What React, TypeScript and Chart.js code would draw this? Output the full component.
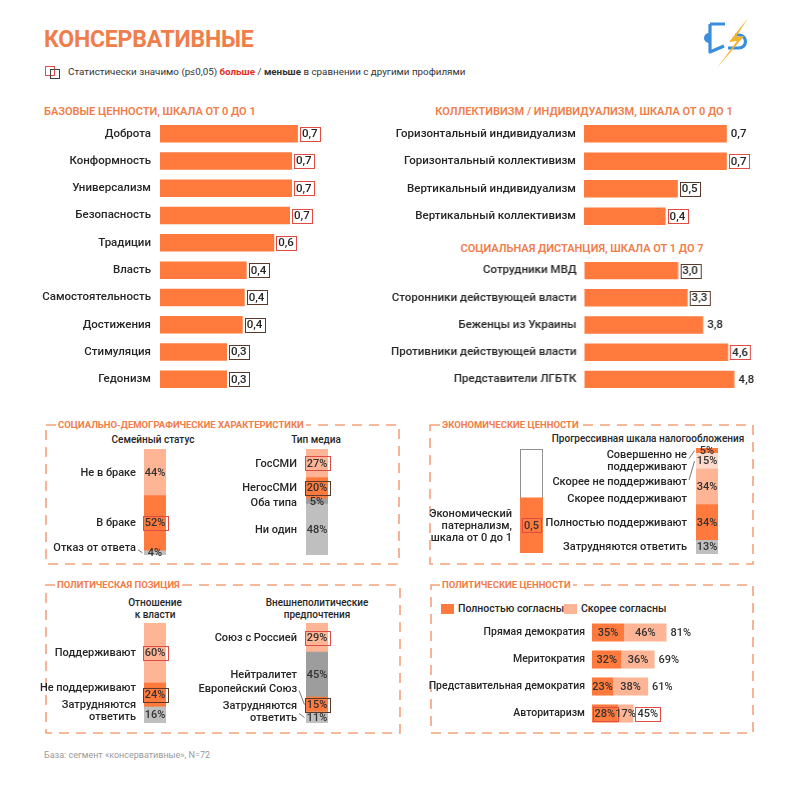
import React, { useEffect, useRef } from 'react';
import { Chart, registerables } from 'chart.js';
Chart.register(...registerables);

// ---------------- DATA ----------------
type Sig = 'more' | 'less' | null;

const baseLabels = ['Доброта', 'Конформность', 'Универсализм', 'Безопасность', 'Традиции', 'Власть', 'Самостоятельность', 'Достижения', 'Стимуляция', 'Гедонизм'];
const baseValues = [0.70, 0.67, 0.67, 0.66, 0.58, 0.44, 0.43, 0.42, 0.34, 0.34];
const baseSig: Sig[] = ['more', 'more', 'more', 'more', 'more', 'less', 'less', 'less', 'less', 'less'];

const collLabels = ['Горизонтальный индивидуализм', 'Горизонтальный коллективизм', 'Вертикальный индивидуализм', 'Вертикальный коллективизм'];
const collValues = [0.70, 0.70, 0.46, 0.40];
const collSig: Sig[] = [null, 'more', 'less', 'more'];

const distLabels = ['Сотрудники МВД', 'Сторонники действующей власти', 'Беженцы из Украины', 'Противники действующей власти', 'Представители ЛГБТК'];
const distValues = [3.0, 3.3, 3.8, 4.6, 4.8];
const distSig: Sig[] = ['less', 'less', null, 'more', null];

const familyLabels = ['Не в браке', 'В браке', 'Отказ от ответа'];
const familyValues = [44, 52, 4];
const familySig: Sig[] = [null, 'more', null];

const mediaLabels = ['ГосСМИ', 'НегосСМИ', 'Оба типа', 'Ни один'];
const mediaValues = [27, 20, 5, 48];
const mediaSig: Sig[] = ['more', 'less', null, null];

const paternalLabels = ['Экономический\nпатернализм,\nшкала от 0 до 1'];
const paternalValues = [0.53];
const paternalSig: Sig[] = ['more'];

const taxLabels = ['Совершенно не\nподдерживают', 'Скорее не поддерживают', 'Скорее поддерживают', 'Полностью поддерживают', 'Затрудняются ответить'];
const taxValues = [5, 15, 34, 34, 13];
const taxSig: Sig[] = [null, null, null, null, null];

const powerLabels = ['Поддерживают', 'Не поддерживают', 'Затрудняются\nответить'];
const powerValues = [60, 24, 16];
const powerSig: Sig[] = ['more', 'less', null];

const foreignLabels = ['Союз с Россией', 'Нейтралитет', 'Европейский Союз', 'Затрудняются\nответить'];
const foreignValues = [29, 45, 15, 11];
const foreignSig: Sig[] = ['more', null, 'less', null];

const polLabels = ['Прямая демократия', 'Меритократия', 'Представительная демократия', 'Авторитаризм'];
const polFull = [35, 32, 23, 28];
const polRather = [46, 36, 38, 17];
const polTotal = [81, 69, 61, 45];
const polFullSig: Sig[] = [null, null, null, 'more'];
const polTotalSig: Sig[] = [null, null, null, 'more'];

// ---------------- STYLE ----------------
const FONT = 'Roboto, "Noto Sans", "DejaVu Sans", sans-serif';
const ORANGE = '#FF7A3C';
const LIGHT = '#FDB596';
const PALE = '#FDDACB';
const GRAY = '#BFBFBF';
const DGRAY = '#9D9D9D';
const RED = '#E04B43';
const DARKB = '#5B3A2C';
const TXT = '#262626';
const TITLE = '#F07D4A';
const BOXC = '#F3A27C';

const comma = (v: number) => v.toFixed(1).replace('.', ',');
const pct = (v: number) => `${v}%`;

function drawBox(ctx: CanvasRenderingContext2D, cx: number, cy: number, w: number, sig: Sig) {
  if (!sig) return;
  ctx.save();
  ctx.strokeStyle = sig === 'more' ? RED : DARKB;
  ctx.lineWidth = 1;
  ctx.strokeRect(Math.round(cx - w / 2) + 0.5, Math.round(cy - 7) + 0.5, Math.round(w), 14);
  ctx.restore();
}

const fitAxis = (w: number) => (s: any) => {
  s.width = w;
  s.paddingTop = 0;
  s.paddingBottom = 0;
};

// ---------------- HORIZONTAL BARS ----------------
function HBar(props: {
  left: number; top: number; axisWidth: number; plotWidth: number; height: number;
  labels: string[]; values: number[]; sig: Sig[]; max: number; pad: number;
}) {
  const { left, top, axisWidth, plotWidth, height, labels, values, sig, max, pad } = props;
  const ref = useRef<HTMLCanvasElement>(null);
  const extra = 45;
  const width = axisWidth + plotWidth + extra;
  useEffect(() => {
    const plugin = {
      id: 'hvals',
      afterDatasetsDraw(chart: any) {
        const ctx = chart.ctx as CanvasRenderingContext2D;
        const meta = chart.getDatasetMeta(0);
        ctx.save();
        ctx.font = `500 11.5px ${FONT}`;
        ctx.textBaseline = 'middle';
        ctx.textAlign = 'left';
        meta.data.forEach((bar: any, i: number) => {
          const txt = comma(values[i]);
          const tw = ctx.measureText(txt).width;
          const x0 = bar.x + 2;
          ctx.fillStyle = TXT;
          ctx.fillText(txt, x0 + 2, bar.y + 0.5);
          drawBox(ctx, x0 + (tw + 4) / 2, bar.y, tw + 4, sig[i]);
        });
        ctx.restore();
      },
    };
    const chart = new Chart(ref.current!, {
      type: 'bar',
      data: {
        labels,
        datasets: [{ data: values, backgroundColor: ORANGE, borderWidth: 0, categoryPercentage: 1, barPercentage: 0.64 }],
      },
      options: {
        indexAxis: 'y',
        animation: false,
        responsive: false,
        maintainAspectRatio: false,
        layout: { padding: { right: extra } },
        plugins: { legend: { display: false }, tooltip: { enabled: false } },
        scales: {
          x: { display: false, min: 0, max },
          y: {
            grid: { display: false, drawTicks: false },
            border: { display: false },
            ticks: { color: TXT, padding: pad, autoSkip: false, font: { family: FONT, size: 11.5, weight: '500' } },
            afterFit: fitAxis(axisWidth),
          },
        },
      } as any,
      plugins: [plugin],
    });
    return () => chart.destroy();
  }, []);
  return <canvas ref={ref} width={width} height={height} style={{ position: 'absolute', left, top, width, height }} />;
}

// ---------------- STACKED COLUMNS ----------------
function StackCol(props: {
  x: number; w: number; y: number; h: number; labelW: number;
  labels: string[]; values: number[]; sig: Sig[]; colors: string[];
  dys?: number[]; leaders?: boolean[]; fmt?: (v: number) => string; max?: number; outline?: boolean; gap?: number;
}) {
  const { x, w, y, h, labelW, labels, values, sig, colors, dys, leaders, fmt = pct, max, outline, gap = 8 } = props;
  const ref = useRef<HTMLCanvasElement>(null);
  const padV = 14;
  const width = labelW + w + 6;
  const height = h + padV * 2;
  useEffect(() => {
    const datasets = labels.map((l, i) => ({
      label: l, data: [values[i]], backgroundColor: colors[i], borderWidth: 0,
      categoryPercentage: 1, barPercentage: 1, seg: i,
    })).reverse();
    const total = max ?? values.reduce((a, b) => a + b, 0);
    const plugin = {
      id: 'stackLabels',
      beforeDatasetsDraw(chart: any) {
        if (!outline) return;
        const ctx = chart.ctx as CanvasRenderingContext2D;
        const a = chart.chartArea;
        ctx.save();
        ctx.strokeStyle = '#8f8f8f';
        ctx.lineWidth = 1;
        ctx.strokeRect(a.left + 0.5, a.top + 0.5, a.right - a.left - 1, a.bottom - a.top - 1);
        ctx.restore();
      },
      afterDatasetsDraw(chart: any) {
        const ctx = chart.ctx as CanvasRenderingContext2D;
        const a = chart.chartArea;
        ctx.save();
        chart.data.datasets.forEach((ds: any, di: number) => {
          const el = chart.getDatasetMeta(di).data[0];
          const i = ds.seg;
          const cy = (el.y + el.base) / 2;
          ctx.font = `500 11px ${FONT}`;
          ctx.textBaseline = 'middle';
          ctx.textAlign = 'center';
          const txt = fmt(values[i]);
          const tw = ctx.measureText(txt).width;
          ctx.fillStyle = '#333';
          ctx.fillText(txt, el.x, cy + 0.5);
          drawBox(ctx, el.x, cy, tw + 4, sig[i]);
          const lines = labels[i].split('\n');
          const ly = cy + (dys ? dys[i] : 0);
          const lx = a.left - gap;
          ctx.textAlign = 'right';
          ctx.fillStyle = TXT;
          lines.forEach((ln, k) => ctx.fillText(ln, lx, ly + 0.5 + (k - (lines.length - 1) / 2) * 12));
          if (leaders && leaders[i]) {
            ctx.strokeStyle = '#555';
            ctx.lineWidth = 0.8;
            ctx.beginPath();
            ctx.moveTo(lx + 2, ly + (ly > cy ? -2 : 2));
            ctx.lineTo(a.left - 1.5, cy);
            ctx.stroke();
          }
        });
        ctx.restore();
      },
    };
    const chart = new Chart(ref.current!, {
      type: 'bar',
      data: { labels: [''], datasets },
      options: {
        animation: false,
        responsive: false,
        maintainAspectRatio: false,
        layout: { padding: { left: labelW, right: 6, top: padV, bottom: padV } },
        plugins: { legend: { display: false }, tooltip: { enabled: false } },
        scales: {
          x: { display: false, stacked: true },
          y: { display: false, stacked: true, min: 0, max: total },
        },
      } as any,
      plugins: [plugin],
    });
    return () => chart.destroy();
  }, []);
  return <canvas ref={ref} width={width} height={height} style={{ position: 'absolute', left: x - labelW, top: y - padV, width, height }} />;
}

// ---------------- POLITICAL VALUES ----------------
function PolValues() {
  const ref = useRef<HTMLCanvasElement>(null);
  const axisWidth = 167;
  const plotWidth = 92;
  const extra = 40;
  const width = axisWidth + plotWidth + extra;
  const height = 108;
  useEffect(() => {
    const plugin = {
      id: 'polvals',
      afterDatasetsDraw(chart: any) {
        const ctx = chart.ctx as CanvasRenderingContext2D;
        const m0 = chart.getDatasetMeta(0);
        const m1 = chart.getDatasetMeta(1);
        ctx.save();
        ctx.font = `500 11px ${FONT}`;
        ctx.textBaseline = 'middle';
        polLabels.forEach((_, i) => {
          const e0 = m0.data[i];
          const e1 = m1.data[i];
          ctx.fillStyle = '#333';
          ctx.textAlign = 'center';
          const t0 = pct(polFull[i]);
          const c0 = (e0.x + e0.base) / 2;
          ctx.fillText(t0, c0, e0.y + 0.5);
          drawBox(ctx, c0, e0.y, ctx.measureText(t0).width + 4, polFullSig[i]);
          const t1 = pct(polRather[i]);
          ctx.fillText(t1, (e1.x + e1.base) / 2, e1.y + 0.5);
          const tt = pct(polTotal[i]);
          const tw = ctx.measureText(tt).width;
          ctx.textAlign = 'left';
          ctx.fillText(tt, e1.x + 4, e1.y + 0.5);
          drawBox(ctx, e1.x + 2 + (tw + 4) / 2, e1.y, tw + 4, polTotalSig[i]);
        });
        ctx.restore();
      },
    };
    const chart = new Chart(ref.current!, {
      type: 'bar',
      data: {
        labels: polLabels,
        datasets: [
          { label: 'Полностью согласны', data: polFull, backgroundColor: ORANGE, borderWidth: 0, categoryPercentage: 1, barPercentage: 0.67 },
          { label: 'Скорее согласны', data: polRather, backgroundColor: LIGHT, borderWidth: 0, categoryPercentage: 1, barPercentage: 0.67 },
        ],
      },
      options: {
        indexAxis: 'y',
        animation: false,
        responsive: false,
        maintainAspectRatio: false,
        layout: { padding: { right: extra } },
        plugins: { legend: { display: false }, tooltip: { enabled: false } },
        scales: {
          x: { display: false, stacked: true, min: 0, max: 100 },
          y: {
            stacked: true,
            grid: { display: false, drawTicks: false },
            border: { display: false },
            ticks: { color: TXT, padding: 7, autoSkip: false, font: { family: FONT, size: 10.5, weight: '500' } },
            afterFit: fitAxis(axisWidth),
          },
        },
      } as any,
      plugins: [plugin],
    });
    return () => chart.destroy();
  }, []);
  return <canvas ref={ref} width={width} height={height} style={{ position: 'absolute', left: 425, top: 618.5, width, height }} />;
}

// ---------------- HTML HELPERS ----------------
const abs = (left: number, top: number, extra: React.CSSProperties = {}): React.CSSProperties => ({
  position: 'absolute', left, top, whiteSpace: 'nowrap', ...extra,
});

function BoxTitle({ left, top, text }: { left: number; top: number; text: string }) {
  return (
    <div style={abs(left, top - 7, { height: 14, lineHeight: '14px', background: '#fff', padding: '0 2px', fontSize: 9.5, fontWeight: 700, color: TITLE })}>
      {text}
    </div>
  );
}

function Sub({ cx, top, text, w = 200 }: { cx: number; top: number; text: string; w?: number }) {
  return (
    <div style={abs(cx - w / 2, top, { width: w, textAlign: 'center', fontSize: 10, lineHeight: '12px', fontWeight: 500, color: TXT, whiteSpace: 'pre' })}>
      {text}
    </div>
  );
}

export default function App() {
  return (
    <div style={{ position: 'absolute', left: 0, top: 0, width: 800, height: 796, background: '#fff', overflow: 'hidden', fontFamily: FONT }}>
      <svg width={800} height={796} style={{ position: 'absolute', left: 0, top: 0 }}>
        <g fill="none" stroke={BOXC} strokeWidth={1.6} strokeDasharray="10 7">
          <rect x={46} y={425} width={353} height={139} />
          <rect x={430} y={425} width={323} height={139} />
          <rect x={46} y={585} width={354} height={148} />
          <rect x={431} y={585} width={322} height={148} />
        </g>
        {/* logo */}
        <g>
          <path d="M709 33 A5 5 0 0 0 709 43 Z" fill="#3B8EDB" />
          <path d="M710 24 L710 52 L724 46 M710 24 L725 24 M728 48 L739 48 A6.5 6.5 0 0 0 739 35 L735 35" fill="none" stroke="#3B8EDB" strokeWidth={3.2} strokeLinejoin="round" />
          <polygon points="748,18 729,42 737,41 717,68 744,36 736,37" fill="#F5B22B" />
        </g>
      </svg>

      <div style={abs(44, 26, { fontSize: 23, lineHeight: '28px', fontWeight: 700, color: TITLE, letterSpacing: -0.2 })}>КОНСЕРВАТИВНЫЕ</div>

      {/* significance legend */}
      <div style={abs(45, 66, { width: 10, height: 10, border: `1px solid ${RED}`, boxSizing: 'border-box' })} />
      <div style={abs(50, 69, { width: 10, height: 10, border: '1px solid #444', boxSizing: 'border-box' })} />
      <div style={abs(68, 66, { fontSize: 9.8, lineHeight: '12px', color: '#333' })}>
        Статистически значимо (p≤0,05) <b style={{ color: '#E0302A' }}>больше</b> / <b>меньше</b> в сравнении с другими профилями
      </div>

      <div style={abs(44, 104.5, { fontSize: 11, lineHeight: '13px', fontWeight: 600, color: TITLE })}>БАЗОВЫЕ ЦЕННОСТИ, ШКАЛА ОТ 0 ДО 1</div>
      <div style={abs(384, 104.5, { width: 400, textAlign: 'center', fontSize: 11, lineHeight: '13px', fontWeight: 600, color: TITLE })}>КОЛЛЕКТИВИЗМ / ИНДИВИДУАЛИЗМ, ШКАЛА ОТ 0 ДО 1</div>
      <div style={abs(382, 241.5, { width: 400, textAlign: 'center', fontSize: 11, lineHeight: '13px', fontWeight: 600, color: TITLE })}>СОЦИАЛЬНАЯ ДИСТАНЦИЯ, ШКАЛА ОТ 1 ДО 7</div>

      <HBar left={30} top={120} axisWidth={130} plotWidth={197} height={273} labels={baseLabels} values={baseValues} sig={baseSig} max={1} pad={9} />
      <HBar left={385} top={120} axisWidth={199} plotWidth={204} height={110} labels={collLabels} values={collValues} sig={collSig} max={1} pad={8} />
      <HBar left={385} top={257} axisWidth={199} plotWidth={187.5} height={136} labels={distLabels} values={distValues} sig={distSig} max={6} pad={8} />

      {/* socio-demographic */}
      <BoxTitle left={56} top={425} text="СОЦИАЛЬНО-ДЕМОГРАФИЧЕСКИЕ ХАРАКТЕРИСТИКИ" />
      <Sub cx={153} top={434} text="Семейный статус" />
      <Sub cx={316} top={434} text="Тип медиа" />
      <StackCol x={144} w={22} y={449} h={106} labelW={110} labels={familyLabels} values={familyValues} sig={familySig}
        colors={[LIGHT, ORANGE, GRAY]} dys={[0, 0, -5]} leaders={[false, false, true]} />
      <StackCol x={306} w={22} y={449} h={106} labelW={110} labels={mediaLabels} values={mediaValues} sig={mediaSig}
        colors={[LIGHT, ORANGE, DGRAY, GRAY]} dys={[0, 0, 1, 0]} gap={9} />

      {/* economic */}
      <BoxTitle left={440} top={425} text="ЭКОНОМИЧЕСКИЕ ЦЕННОСТИ" />
      <Sub cx={648} top={433} text="Прогрессивная шкала налогообложения" w={240} />
      <StackCol x={520} w={23} y={449} h={104} labelW={100} labels={paternalLabels} values={paternalValues} sig={paternalSig}
        colors={[ORANGE]} fmt={comma} max={1} outline />
      <StackCol x={696} w={22} y={448} h={106} labelW={150} labels={taxLabels} values={taxValues} sig={taxSig}
        colors={[ORANGE, PALE, LIGHT, ORANGE, GRAY]} dys={[10, 21, 12, 0, 0]} leaders={[true, true, false, false, false]} gap={9} />

      {/* political position */}
      <BoxTitle left={55} top={585} text="ПОЛИТИЧЕСКАЯ ПОЗИЦИЯ" />
      <Sub cx={155} top={597} text={'Отношение\nк власти'} />
      <Sub cx={317} top={597} text={'Внешнеполитические\nпредпочтения'} />
      <StackCol x={144} w={22} y={623} h={100} labelW={110} labels={powerLabels} values={powerValues} sig={powerSig}
        colors={[LIGHT, ORANGE, GRAY]} dys={[0, -7, -4]} />
      <StackCol x={306} w={22} y={623} h={100} labelW={110} labels={foreignLabels} values={foreignValues} sig={foreignSig}
        colors={[LIGHT, DGRAY, ORANGE, GRAY]} dys={[0, 0, -16, -6]} leaders={[false, false, true, true]} gap={9} />

      {/* political values */}
      <BoxTitle left={440} top={585} text="ПОЛИТИЧЕСКИЕ ЦЕННОСТИ" />
      <div style={abs(441, 604, { width: 13, height: 10, background: ORANGE })} />
      <div style={abs(458, 603, { fontSize: 10.5, lineHeight: '12px', fontWeight: 500, color: TXT })}>Полностью согласны</div>
      <div style={abs(564, 604, { width: 13, height: 10, background: LIGHT })} />
      <div style={abs(581, 603, { fontSize: 10.5, lineHeight: '12px', fontWeight: 500, color: TXT })}>Скорее согласны</div>
      <PolValues />

      <div style={abs(44, 749, { fontSize: 9, lineHeight: '12px', color: '#9a9a9a' })}>База: сегмент «консервативные», N=72</div>
    </div>
  );
}
